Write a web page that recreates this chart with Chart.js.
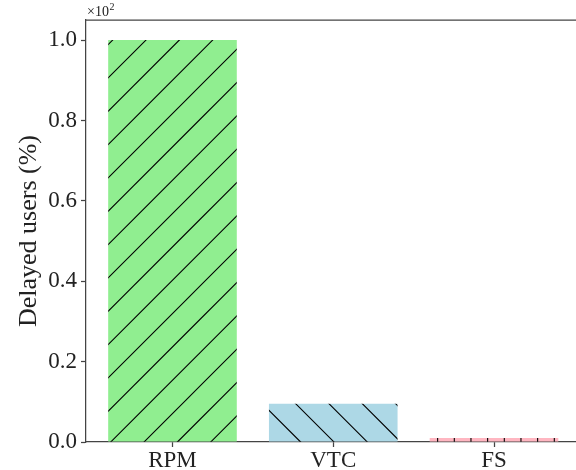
<!DOCTYPE html>
<html>
<head>
<meta charset="utf-8">
<script src="https://cdn.jsdelivr.net/npm/chart.js@4/dist/chart.umd.min.js"></script>
<style>
  html, body { margin: 0; padding: 0; background: #fff; overflow: hidden; }
  #wrap { width: 576px; height: 470px; }
</style>
</head>
<body>
<div id="wrap"><canvas id="c" width="576" height="470"></canvas></div>
<script>
// Share of delayed users per scheduling method, in percent
const categories = ['RPM', 'VTC', 'FS'];
const delayedPct = [100, 9.5, 1.0];
const fillColors = ['#90EE90', '#ADD8E6', '#FFB6C1'];
const hatches = ['/', '\\', '|'];
const yTicks = [0, 20, 40, 60, 80, 100];

const SERIF = "'Liberation Serif'";
const AXIS = '#444';

// Build a repeating hatch tile (fill colour + black hatch lines)
function hatchPattern(color, kind) {
  const T = 100;
  const t = document.createElement('canvas');
  t.width = T; t.height = T;
  const g = t.getContext('2d');
  g.fillStyle = color;
  g.fillRect(0, 0, T, T);
  g.strokeStyle = '#000';
  g.lineWidth = 1.1;
  g.beginPath();
  const step = T / 3;
  if (kind === '/') {
    for (let k = -6; k <= 9; k++) {
      const c = 19.4 + k * step;
      g.moveTo(c + 150, -150); g.lineTo(c - 250, 250);
    }
  } else if (kind === '\\') {
    for (let k = -9; k <= 6; k++) {
      const c = 25.3 + k * step;
      g.moveTo(c - 150, -150); g.lineTo(c + 250, 250);
    }
  } else {
    const s = T / 6;
    for (let k = -1; k <= 6; k++) {
      const x = 4.3 + k * s;
      g.moveTo(x, -5); g.lineTo(x, T + 5);
    }
  }
  g.stroke();
  const ctx = document.getElementById('c').getContext('2d');
  return ctx.createPattern(t, 'repeat');
}

const points = categories.map((_, i) => ({ x: i, y: delayedPct[i] }));

// Top spine and the x10^2 offset label
const decorations = {
  id: 'decorations',
  afterDraw(chart) {
    const { ctx, chartArea } = chart;
    ctx.save();
    ctx.strokeStyle = AXIS;
    ctx.lineWidth = 1.25;
    ctx.beginPath();
    ctx.moveTo(chartArea.left, chartArea.top);
    ctx.lineTo(chartArea.right, chartArea.top);
    ctx.stroke();
    ctx.fillStyle = '#222';
    ctx.font = '14px ' + SERIF;
    ctx.textAlign = 'left';
    ctx.textBaseline = 'alphabetic';
    ctx.fillText('\u00d710', chartArea.left + 1, chartArea.top - 4);
    const w = ctx.measureText('\u00d710').width;
    ctx.font = '10px ' + SERIF;
    ctx.fillText('2', chartArea.left + 1 + w + 0.5, chartArea.top - 10);
    ctx.restore();
  }
};

new Chart(document.getElementById('c'), {
  type: 'bar',
  data: {
    datasets: [{
      data: points,
      backgroundColor: categories.map((_, i) => hatchPattern(fillColors[i], hatches[i])),
      borderWidth: 0,
      barPercentage: 0.8,
      categoryPercentage: 1.0
    }]
  },
  options: {
    responsive: false,
    animation: false,
    layout: { padding: { top: 20, right: 0, bottom: 0, left: 0 } },
    plugins: { legend: { display: false }, tooltip: { enabled: false } },
    scales: {
      x: {
        type: 'linear',
        offset: false,
        min: -0.538,
        max: 2.510,
        afterBuildTicks(scale) { scale.ticks = categories.map((_, i) => ({ value: i })); },
        afterFit(scale) { scale.height = 28; },
        grid: { offset: false, drawOnChartArea: false, drawTicks: true, tickLength: 5, tickColor: AXIS, tickWidth: 1.25 },
        border: { display: true, color: AXIS, width: 1.25 },
        ticks: {
          autoSkip: false,
          maxRotation: 0,
          padding: 0,
          color: '#222',
          font: { family: SERIF, size: 23 },
          callback: (v) => categories[v] ?? ''
        }
      },
      y: {
        min: 0,
        max: 105,
        afterBuildTicks(scale) { scale.ticks = yTicks.map(v => ({ value: v })); },
        afterFit(scale) { scale.width = 86; },
        grid: { drawOnChartArea: false, drawTicks: true, tickLength: 5, tickColor: AXIS, tickWidth: 1.25 },
        border: { display: true, color: AXIS, width: 1.25 },
        ticks: {
          padding: 4,
          color: '#222',
          font: { family: SERIF, size: 23 },
          callback: (v) => (v / 100).toFixed(1)
        },
        title: {
          display: true,
          text: 'Delayed users (%)',
          color: '#222',
          font: { family: SERIF, size: 26 },
          padding: { top: 14, bottom: 0 }
        }
      }
    }
  },
  plugins: [decorations]
});
</script>
</body>
</html>
